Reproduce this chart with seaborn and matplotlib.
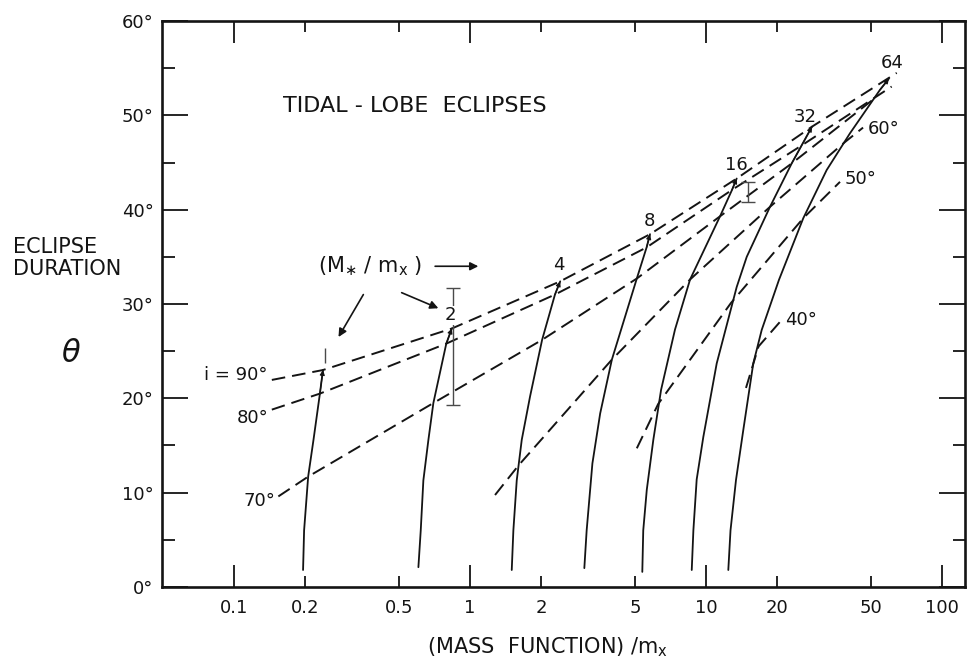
import matplotlib
matplotlib.use("Agg")
import matplotlib.pyplot as plt
import matplotlib.ticker as mticker
import seaborn as sns

# solid curves: constant M*/mx, (mass function)/mx against eclipse duration (deg)
q1_x = [0.196, 0.198, 0.206, 0.217, 0.231, 0.238]
q1_t = [1.8, 6.0, 11.7, 15.6, 20.5, 23.0]
q2_x = [0.604, 0.618, 0.634, 0.666, 0.699, 0.793, 0.837]
q2_t = [2.1, 6.0, 11.3, 15.6, 19.5, 25.8, 27.4]
q4_x = [1.502, 1.526, 1.577, 1.656, 1.796, 2.02, 2.29, 2.41]
q4_t = [1.8, 6.0, 11.3, 15.6, 20.2, 26.2, 31.0, 32.4]
q8_x = [3.05, 3.12, 3.30, 3.56, 3.99, 5.09, 5.60, 5.79]
q8_t = [2.0, 6.0, 13.1, 18.4, 24.1, 32.7, 36.0, 37.4]
q16_x = [5.37, 5.42, 5.61, 5.98, 6.45, 7.39, 8.56, 11.47, 12.89, 13.49]
q16_t = [1.6, 6.0, 10.3, 15.6, 20.9, 27.3, 32.6, 39.3, 42.1, 43.3]
q32_x = [8.70, 8.84, 9.13, 9.74, 11.1, 13.49, 14.88, 18.67, 23.07, 28.13]
q32_t = [1.8, 6.0, 11.4, 15.9, 23.7, 31.8, 35.0, 40.3, 44.9, 48.8]
q64_x = [12.43, 12.70, 13.40, 14.39, 15.86, 17.22, 20.38, 25.84, 32.46, 40.76, 54.6, 59.6]
q64_t = [1.8, 6.0, 11.35, 16.65, 23.7, 27.25, 32.56, 39.1, 44.2, 48.1, 52.7, 53.9]

# dashed curves: constant inclination i
i90_x = [0.1445, 0.238, 0.837, 2.41, 5.79, 13.49, 28.13, 64.3]
i90_t = [21.95, 23.0, 27.4, 32.4, 37.4, 43.3, 48.8, 54.5]
i80_x = [0.1445, 0.231, 0.793, 2.29, 5.60, 12.89, 25.4, 61.2]
i80_t = [18.8, 20.5, 25.8, 31.0, 36.0, 42.1, 46.8, 53.05]
i70_x = [0.154, 0.206, 0.699, 2.02, 5.09, 11.47, 23.07, 51.2]
i70_t = [9.6, 11.7, 19.5, 26.2, 32.7, 39.3, 44.9, 51.7]
i60_x = [1.276, 1.606, 3.99, 8.56, 18.67, 38.5, 46.3]
i60_t = [9.75, 12.9, 24.1, 32.6, 40.3, 47.1, 48.7]
i50_x = [5.09, 6.27, 12.75, 25.84, 36.97]
i50_t = [14.7, 19.4, 30.1, 39.1, 42.95]
i40_x = [14.77, 16.7, 20.57]
i40_t = [21.1, 25.5, 28.1]

# observed ranges (error bars)
obs_x = [0.243, 0.85, 15.1]
obs_lo = [23.7, 19.3, 40.8]
obs_hi = [25.3, 31.7, 42.9]
obs_cap = [0, 5, 5]

x_major = [0.1, 1, 10, 100]
x_minor = [0.2, 0.5, 2, 5, 20, 50]
y_major = [0, 10, 20, 30, 40, 50, 60]
y_minor = [5, 15, 25, 35, 45, 55]

sns.set_style("ticks")
plt.rcParams['font.family'] = ['DejaVu Sans']
plt.rcParams['mathtext.fontset'] = 'dejavusans'
ink = '#141414'

fig = plt.figure(figsize=(9.68, 6.69), dpi=100)
ax = fig.add_axes([0.1674, 0.1226, 0.8295, 0.846])
ax.set_xscale('log')

solid = [(q1_x, q1_t), (q2_x, q2_t), (q4_x, q4_t), (q8_x, q8_t),
         (q16_x, q16_t), (q32_x, q32_t), (q64_x, q64_t)]
for xs, ts in solid:
    sns.lineplot(x=xs, y=ts, ax=ax, color=ink, lw=1.3, sort=False, estimator=None)
    ax.annotate('', xy=(xs[-1], ts[-1]), xytext=(xs[-2], ts[-2]),
                arrowprops=dict(arrowstyle='-|>', color=ink, lw=0.9,
                                mutation_scale=7, shrinkA=0, shrinkB=0))

dashed = [(i90_x, i90_t), (i80_x, i80_t), (i70_x, i70_t),
          (i60_x, i60_t), (i50_x, i50_t), (i40_x, i40_t)]
for xs, ts in dashed:
    sns.lineplot(x=xs, y=ts, ax=ax, color=ink, lw=1.4, sort=False, estimator=None,
                 linestyle=(0, (7, 3.6)))

for x, lo, hi, cap in zip(obs_x, obs_lo, obs_hi, obs_cap):
    ax.errorbar([x], [(lo + hi) / 2], yerr=[[(hi - lo) / 2], [(hi - lo) / 2]],
                fmt='none', ecolor='#4a4a4a', elinewidth=1.0, capsize=cap, capthick=1.0)

# q labels at the tops of the solid curves
fs = 13
ax.text(0.828, 28.8, "2", ha='center', va='center', fontsize=fs, color=ink,
        bbox=dict(fc='white', ec='none', pad=0.5))
ax.text(2.37, 34.1, "4", ha='center', va='center', fontsize=fs, color=ink)
ax.text(5.75, 38.8, "8", ha='center', va='center', fontsize=fs, color=ink)
ax.text(13.49, 44.7, "16", ha='center', va='center', fontsize=fs, color=ink)
ax.text(26.4, 49.8, "32", ha='center', va='center', fontsize=fs, color=ink)
ax.text(61.7, 55.5, "64", ha='center', va='center', fontsize=fs, color=ink)

# inclination labels
ax.text(0.139, 22.5, "i = 90°", ha='right', va='center', fontsize=fs, color=ink)
ax.text(0.140, 17.9, "80°", ha='right', va='center', fontsize=fs, color=ink)
ax.text(0.149, 9.1, "70°", ha='right', va='center', fontsize=fs, color=ink)
ax.text(48.6, 48.6, "60°", ha='left', va='center', fontsize=fs, color=ink)
ax.text(38.8, 43.2, "50°", ha='left', va='center', fontsize=fs, color=ink)
ax.text(21.6, 28.3, "40°", ha='left', va='center', fontsize=fs, color=ink)

ax.text(0.161, 51.0, "TIDAL - LOBE  ECLIPSES", ha='left', va='center',
        fontsize=16, color=ink)
ax.text(0.227, 34.0, r"(M$_{\ast}$ / m$_{\rm x}$ )", ha='left', va='center',
        fontsize=15, color=ink)
arrow = dict(arrowstyle='-|>', color=ink, lw=1.2, mutation_scale=12, shrinkA=0, shrinkB=0)
ax.annotate('', xy=(1.084, 34.0), xytext=(0.711, 34.0), arrowprops=arrow)
ax.annotate('', xy=(0.277, 26.5), xytext=(0.353, 31.0), arrowprops=arrow)
ax.annotate('', xy=(0.734, 29.55), xytext=(0.513, 31.2), arrowprops=arrow)

ax.set_xlim(0.0495, 125.2)
ax.set_ylim(0, 60)
ax.xaxis.set_major_locator(mticker.FixedLocator(x_major))
ax.xaxis.set_minor_locator(mticker.FixedLocator(x_minor))
fmt = mticker.FuncFormatter(lambda v, p: f"{v:g}")
ax.xaxis.set_major_formatter(fmt)
ax.xaxis.set_minor_formatter(fmt)
ax.yaxis.set_major_locator(mticker.FixedLocator(y_major))
ax.yaxis.set_minor_locator(mticker.FixedLocator(y_minor))
ax.yaxis.set_major_formatter(mticker.FuncFormatter(lambda v, p: f"{v:g}°"))

ax.tick_params(axis='x', which='both', direction='in', top=True, bottom=True,
               labelsize=13, pad=9, colors=ink, width=1.3)
ax.tick_params(axis='x', which='major', length=16)
ax.tick_params(axis='x', which='minor', length=8)
ax.tick_params(axis='y', which='both', direction='in', left=True, right=True,
               labelsize=13, pad=6, colors=ink, width=1.3)
ax.tick_params(axis='y', which='major', length=19)
ax.tick_params(axis='y', which='minor', length=9)
for s in ax.spines.values():
    s.set_visible(True)
    s.set_linewidth(1.9)
    s.set_color(ink)
ax.set_xlabel('')
ax.set_ylabel('')

fig.text(13 / 968, 1 - 237 / 669, "ECLIPSE\nDURATION", ha='left', va='top',
         fontsize=15, linespacing=1.12, color=ink)
fig.text(71 / 968, 1 - 354 / 669, r"$\theta$", ha='center', va='center',
         fontsize=22, color=ink)
fig.text(548 / 968, 1 - 647 / 669, r"(MASS  FUNCTION) /m$_{\rm x}$", ha='center',
         va='center', fontsize=15, color=ink)

fig.savefig("out.png", dpi=100, facecolor='white')
